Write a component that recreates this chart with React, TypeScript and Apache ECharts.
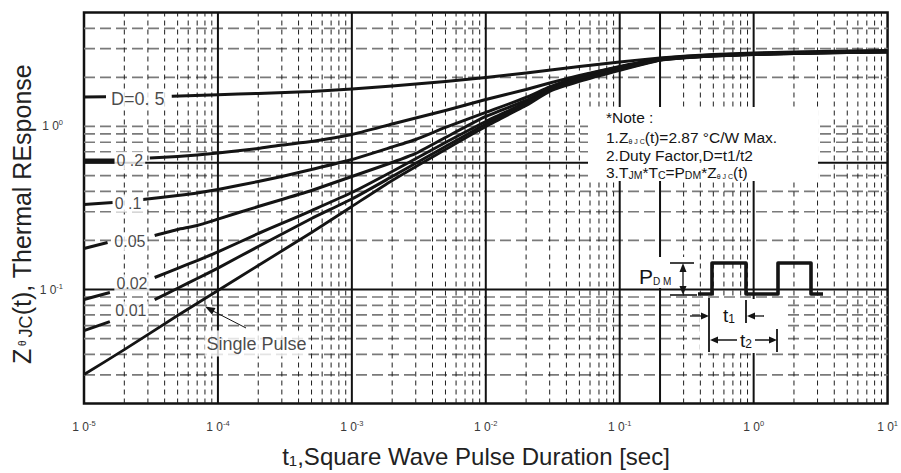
import React, { useEffect, useRef } from "react";
import * as echarts from "echarts";

const FONT = "'Liberation Sans', Arial, Helvetica, sans-serif";
const INK = "#141414";

// ---- axes ----
const xMin = 1e-5;
const xMax = 10;
const yMin = 0.02;
const yMax = 5;
const xDecades = [1e-5, 1e-4, 1e-3, 1e-2, 1e-1, 1];
const yDecades = [0.01, 0.1, 1];
const minorSteps = [2, 3, 4, 5, 6, 7, 8, 9];
const xSolidLines = [1e-4, 1e-3, 1e-2, 1e-1, 1, 0.2];
const ySolidLines = [0.1, 0.6];
const yDashedExtra = [1];

// ---- curves: [t (sec), Z (normalised thermal response)] ----
const d05Lead = [[1e-5, 1.517], [1.46e-5, 1.521]];
const d05 = [[4.52e-5, 1.532], [1e-4, 1.565], [2e-4, 1.594], [5e-4, 1.639], [1e-3, 1.699], [2e-3, 1.772], [5e-3, 1.888], [1e-2, 1.998], [2e-2, 2.129], [5e-2, 2.334], [0.1, 2.488], [0.2, 2.632], [0.5, 2.765], [1, 2.824], [2, 2.865], [5, 2.906], [10, 2.927]];

const d02Lead = [[1e-5, 0.6141], [1.7e-5, 0.6141]];
const d02 = [[3.1e-5, 0.6407], [5e-5, 0.6546], [7e-5, 0.6686], [1e-4, 0.6877], [2e-4, 0.7329], [3e-4, 0.77], [5e-4, 0.809], [1e-3, 0.893], [2e-3, 1.036], [3e-3, 1.127], [5e-3, 1.254], [1e-2, 1.464], [2e-2, 1.687], [3e-2, 1.849], [5e-2, 2.055], [0.1, 2.334], [0.2, 2.614], [0.5, 2.746], [1, 2.804], [2, 2.844], [5, 2.885], [10, 2.906]];

const d01Lead = [[1e-5, 0.3322], [1.64e-5, 0.3417]];
const d01 = [[2.75e-5, 0.3565], [5e-5, 0.3773], [7e-5, 0.3908], [1e-4, 0.4107], [2e-4, 0.4598], [3e-4, 0.4934], [5e-4, 0.5449], [1e-3, 0.6273], [2e-3, 0.7485], [3e-3, 0.8321], [5e-3, 0.986], [1e-2, 1.219], [2e-2, 1.506], [3e-2, 1.747], [5e-2, 2.027], [0.1, 2.317], [0.2, 2.595], [0.5, 2.727], [1, 2.785], [2, 2.824], [5, 2.865], [10, 2.885]];

const d005Lead = [[1e-5, 0.1785], [1.5e-5, 0.1942]];
const d005 = [[3.37e-5, 0.2145], [5e-5, 0.2334], [7e-5, 0.247], [1e-4, 0.2703], [2e-4, 0.323], [3e-4, 0.3565], [5e-4, 0.4049], [1e-3, 0.4934], [2e-3, 0.6013], [3e-3, 0.6831], [5e-3, 0.856], [1e-2, 1.152], [2e-2, 1.444], [3e-2, 1.711], [5e-2, 1.984], [0.1, 2.285], [0.2, 2.595], [0.5, 2.727], [1, 2.785], [2, 2.824], [5, 2.865], [10, 2.885]];

const d002Lead = [[1e-5, 0.0868], [1.56e-5, 0.0958]];
const d002 = [[3.37e-5, 0.1185], [5e-5, 0.1349], [7e-5, 0.1506], [1e-4, 0.1699], [2e-4, 0.2206], [3e-4, 0.2541], [5e-4, 0.3052], [1e-3, 0.3936], [2e-3, 0.5297], [5e-3, 0.7976], [1e-2, 1.073], [2e-2, 1.404], [3e-2, 1.687], [5e-2, 1.97], [0.1, 2.253], [0.2, 2.577], [0.5, 2.708], [1, 2.765], [2, 2.804], [5, 2.844], [10, 2.865]];

const d001Lead = [[1e-5, 0.056], [1.56e-5, 0.0636]];
const d001 = [[3.37e-5, 0.0868], [5e-5, 0.1018], [7e-5, 0.1168], [1e-4, 0.1354], [2e-4, 0.1836], [5e-4, 0.2726], [1e-3, 0.359], [2e-3, 0.4934], [5e-3, 0.7538], [1e-2, 1.036], [2e-2, 1.384], [3e-2, 1.663], [5e-2, 1.942], [0.1, 2.237], [0.2, 2.559], [0.5, 2.708], [1, 2.765], [2, 2.804], [5, 2.844], [10, 2.865]];

const singlePulse = [[1e-5, 0.0301], [2e-5, 0.0428], [5e-5, 0.0693], [1e-4, 0.0986], [2e-4, 0.1404], [5e-4, 0.2237], [1e-3, 0.323], [2e-3, 0.4664], [5e-3, 0.7228], [1e-2, 1.0], [2e-2, 1.345], [3e-2, 1.639], [5e-2, 1.888], [0.1, 2.206], [0.2, 2.541], [0.5, 2.708], [1, 2.765], [2, 2.804], [5, 2.844], [10, 2.865]];

// ---- curve labels ----
const curveLabelText = ["D=0. 5", "0 .2", "0 .1", "0.05", "0.02", "0.01", "Single Pulse"];
const curveLabelT = [2.52e-5, 2.2e-5, 2.13e-5, 2.2e-5, 2.28e-5, 2.24e-5, 1.94e-4];
const curveLabelV = [1.475, 0.6185, 0.337, 0.197, 0.1088, 0.0743, 0.0466];
const curveLabelSize = [18, 16, 16, 16, 16, 16, 18];

const near = (a: number, b: number) => Math.abs(a / b - 1) < 1e-6;

const minorX = xDecades
  .flatMap((d) => minorSteps.map((k) => +(k * d).toPrecision(6)))
  .filter((v) => v > xMin && v < xMax && !xSolidLines.some((s) => near(s, v)));
const dashedY = yDecades
  .flatMap((d) => minorSteps.map((k) => +(k * d).toPrecision(6)))
  .filter((v) => v > yMin * 1.001 && v < yMax * 0.999 && !ySolidLines.some((s) => near(s, v)))
  .concat(yDashedExtra);

// kind: 0 horizontal dashed, 1 vertical dashed, 2 horizontal solid, 3 vertical solid
const gridLineData = [
  ...dashedY.map((v) => [xMin, v, 0]),
  ...minorX.map((v) => [v, yMin, 1]),
  ...ySolidLines.map((v) => [xMin, v, 2]),
  ...xSolidLines.map((v) => [v, yMin, 3]),
];

const lineStyles: any[] = [
  { stroke: "#7a7a7a", lineWidth: 1.7, lineDash: [11, 5] },
  { stroke: "#1e1e1e", lineWidth: 1, lineDash: [5, 4] },
  { stroke: "#111", lineWidth: 2 },
  { stroke: "#111", lineWidth: 2 },
];

const powLabel = (v: number) => {
  const e = Math.log10(v);
  const r = Math.round(e);
  if (Math.abs(e - r) > 1e-6) return "";
  return "{b|1 0}{e|" + r + "}";
};
const tickRich = {
  b: { fontSize: 12, fontFamily: FONT, color: "#3a3a3a", lineHeight: 15 },
  e: { fontSize: 7.5, fontFamily: FONT, color: "#3a3a3a", verticalAlign: "top", lineHeight: 9 },
};

const curve = (data: number[][], width: number) => ({
  type: "line",
  data,
  symbol: "none",
  showSymbol: false,
  smooth: 0.15,
  silent: true,
  clip: true,
  z: 5,
  lineStyle: { color: INK, width, join: "round" },
});

const T = (style: any, extra: any = {}) => ({ type: "text", z: 110, silent: true, ...extra, style: { fontFamily: FONT, fill: INK, ...style } });
const L = (x1: number, y1: number, x2: number, y2: number, w: number) => ({
  type: "line",
  z: 108,
  silent: true,
  shape: { x1, y1, x2, y2 },
  style: { stroke: INK, lineWidth: w },
});
const P = (pts: number[][]) => ({ type: "polygon", z: 109, silent: true, shape: { points: pts }, style: { fill: INK } });
const W = (x: number, y: number, w: number, h: number) => ({
  type: "rect",
  z: 100,
  silent: true,
  shape: { x, y, width: w, height: h },
  style: { fill: "#fff" },
});

const noteRich = {
  n: { fontSize: 15.5, fontFamily: FONT, fill: INK },
  s: { fontSize: 7, fontFamily: FONT, fill: INK, verticalAlign: "bottom" },
  m: { fontSize: 10.5, fontFamily: FONT, fill: INK, verticalAlign: "bottom" },
};

const graphics: any[] = [
  // axis titles
  T(
    {
      text: "{a|Z}{t| θ }{b|JC}{a|(t), Thermal REsponse}",
      align: "center",
      verticalAlign: "middle",
      rich: {
        a: { fontSize: 25, fontFamily: FONT, fill: "#222" },
        t: { fontSize: 10, fontFamily: FONT, fill: "#222" },
        b: { fontSize: 18, fontFamily: FONT, fill: "#222", verticalAlign: "bottom" },
      },
    },
    { x: 22, y: 214, rotation: Math.PI / 2 }
  ),
  T(
    {
      text: "{a|t}{s|1}{a|,Square Wave Pulse Duration [sec]}",
      align: "center",
      verticalAlign: "middle",
      rich: {
        a: { fontSize: 24, fontFamily: FONT, fill: "#222" },
        s: { fontSize: 15, fontFamily: FONT, fill: "#222", verticalAlign: "bottom" },
      },
    },
    { x: 476, y: 456 }
  ),
  // note box
  W(588, 107, 230, 74),
  T({ text: "{n|*Note :}", rich: noteRich, verticalAlign: "middle" }, { x: 606, y: 117 }),
  T({ text: "{n|1.Z}{s|θ J C}{n|(t)=2.87 °C/W Max.}", rich: noteRich, verticalAlign: "middle" }, { x: 606, y: 137 }),
  T({ text: "{n|2.Duty Factor,D=t1/t2}", rich: noteRich, verticalAlign: "middle" }, { x: 606, y: 155 }),
  T({ text: "{n|3.T}{m|JM}{n|*T}{m|C}{n|=P}{m|DM}{n|*Z}{s|θ J C}{n|(t)}", rich: noteRich, verticalAlign: "middle" }, { x: 606, y: 172 }),
  // pulse diagram backgrounds
  W(636, 257, 62, 31),
  W(700, 299, 86, 54),
  {
    type: "polyline",
    z: 108,
    silent: true,
    shape: { points: [[698, 294], [712, 294], [712, 263], [746, 263], [746, 294], [778, 294], [778, 263], [811, 263], [811, 294], [823, 294]] },
    style: { stroke: INK, lineWidth: 3.6, fill: "none", lineJoin: "round" },
  },
  // P_DM
  L(683, 268, 683, 290, 1.3),
  P([[683, 263], [679.5, 272], [686.5, 272]]),
  P([[683, 295], [679.5, 286], [686.5, 286]]),
  L(670, 263, 694, 263, 1.6),
  L(670, 295, 697, 295, 1.6),
  T(
    {
      text: "{p|P}{d|D M}",
      verticalAlign: "middle",
      rich: {
        p: { fontSize: 21, fontFamily: FONT, fill: INK },
        d: { fontSize: 10, fontFamily: FONT, fill: INK, verticalAlign: "bottom" },
      },
    },
    { x: 639, y: 276 }
  ),
  // t1
  L(690, 316, 703, 316, 1.3),
  P([[709, 316], [701, 312.5], [701, 319.5]]),
  L(752, 316, 764, 316, 1.3),
  P([[747, 316], [755, 312.5], [755, 319.5]]),
  L(709, 298, 709, 352, 1.8),
  L(746, 300, 746, 323, 1.8),
  T(
    {
      text: "{a|t}{b|1}",
      align: "center",
      verticalAlign: "middle",
      rich: {
        a: { fontSize: 19, fontFamily: FONT, fill: INK },
        b: { fontSize: 12, fontFamily: FONT, fill: INK, verticalAlign: "bottom" },
      },
    },
    { x: 729, y: 315 }
  ),
  // t2
  L(712, 340, 774, 340, 1.3),
  P([[710, 340], [718, 336.5], [718, 343.5]]),
  P([[777, 340], [769, 336.5], [769, 343.5]]),
  L(777, 329, 777, 352, 1.8),
  T(
    {
      text: "{a|t}{b|2}",
      align: "center",
      verticalAlign: "middle",
      backgroundColor: "#fff",
      padding: [0, 3],
      rich: {
        a: { fontSize: 19, fontFamily: FONT, fill: INK },
        b: { fontSize: 12, fontFamily: FONT, fill: INK, verticalAlign: "bottom" },
      },
    },
    { x: 746, y: 340 }
  ),
  // single pulse arrow
  L(246, 328, 213, 311, 1),
  P([[205, 306.5], [215.5, 308], [212, 314.5]]),
];

const option: any = {
  animation: false,
  backgroundColor: "#fff",
  grid: {
    left: 84,
    right: 11,
    top: 12.5,
    bottom: 69.5,
    show: true,
    borderColor: "#111",
    borderWidth: 2.5,
    backgroundColor: "#fff",
  },
  xAxis: {
    type: "log",
    logBase: 10,
    min: xMin,
    max: xMax,
    axisLine: { show: false },
    axisTick: { show: false },
    splitLine: { show: false },
    axisLabel: { margin: 16, formatter: powLabel, rich: tickRich },
  },
  yAxis: {
    type: "log",
    logBase: 10,
    min: yMin,
    max: yMax,
    axisLine: { show: false },
    axisTick: { show: false },
    splitLine: { show: false },
    axisLabel: { margin: 21, formatter: powLabel, rich: tickRich },
  },
  series: [
    {
      type: "custom",
      silent: true,
      z: 1,
      clip: false,
      dimensions: ["x", "y", "kind"],
      encode: { x: 0, y: 1 },
      data: gridLineData,
      renderItem: (params: any, api: any) => {
        const kind = api.value(2);
        let p1: number[];
        let p2: number[];
        if (kind === 0 || kind === 2) {
          const v = api.value(1);
          p1 = api.coord([xMin, v]);
          p2 = api.coord([xMax, v]);
        } else {
          const v = api.value(0);
          p1 = api.coord([v, yMin]);
          p2 = api.coord([v, yMax]);
        }
        return {
          type: "line",
          silent: true,
          shape: { x1: p1[0], y1: p1[1], x2: p2[0], y2: p2[1] },
          style: { ...lineStyles[kind], fill: null },
        };
      },
    },
    curve(d05Lead, 3),
    curve(d05, 3),
    curve(d02Lead, 5),
    curve(d02, 3),
    curve(d01Lead, 3),
    curve(d01, 3),
    curve(d005Lead, 3),
    curve(d005, 3),
    curve(d002Lead, 3),
    curve(d002, 3),
    curve(d001Lead, 3),
    curve(d001, 3),
    curve(singlePulse, 2.8),
    {
      type: "scatter",
      silent: true,
      symbolSize: 1,
      itemStyle: { color: "rgba(0,0,0,0)" },
      z: 20,
      data: curveLabelText.map((t, i) => ({
        value: [curveLabelT[i], curveLabelV[i]],
        label: {
          show: true,
          position: "inside",
          formatter: t,
          fontSize: curveLabelSize[i],
          fontFamily: FONT,
          color: "#1a1a1a",
          backgroundColor: "#fff",
          padding: i === 6 ? [4, 2] : [1, 2],
        },
      })),
    },
  ],
  graphic: graphics,
};

export default function App() {
  const ref = useRef<HTMLDivElement>(null);
  useEffect(() => {
    if (!ref.current) return;
    const chart = echarts.init(ref.current, null, { renderer: "svg" });
    chart.setOption(option);
    return () => chart.dispose();
  }, []);
  return (
    <div
      ref={ref}
      style={{ position: "fixed", left: 0, top: 0, width: 901, height: 473, background: "#fff" }}
    />
  );
}
